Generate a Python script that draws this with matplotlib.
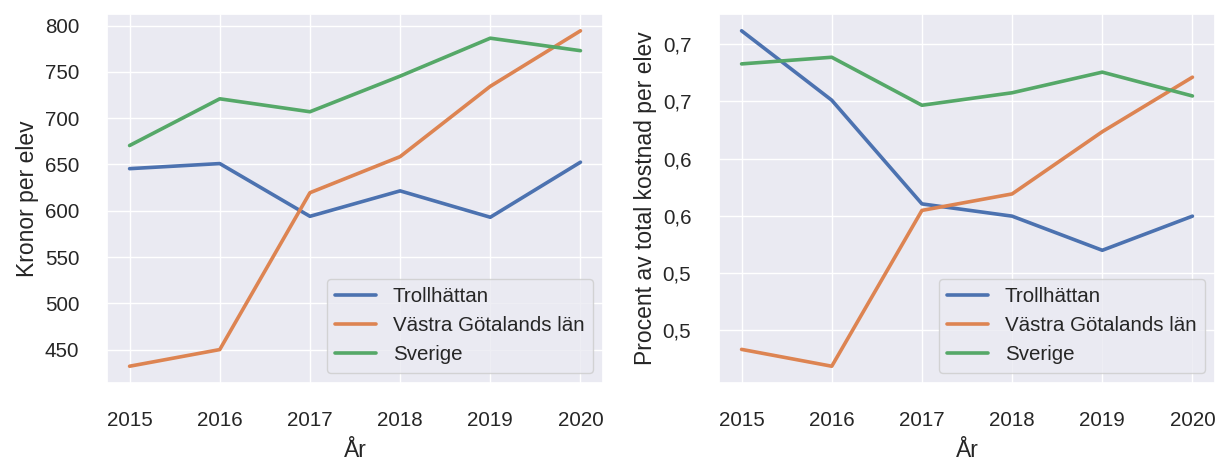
import matplotlib
matplotlib.use("Agg")
import matplotlib.pyplot as plt
from matplotlib.ticker import MultipleLocator, FixedLocator, FixedFormatter
import seaborn as sns

ar = [2015, 2016, 2017, 2018, 2019, 2020]
serier = ["Trollhättan", "Västra Götalands län", "Sverige"]

# Kronor per elev
kronor_trollhattan = [645.5, 651, 594, 621.5, 593, 652.5]
kronor_vgl = [432, 450, 619.5, 658.5, 734.5, 794.5]
kronor_sverige = [670.5, 721, 707, 745.5, 786.5, 773]

# Procent av total kostnad per elev
procent_trollhattan = [0.7116, 0.651, 0.5605, 0.5498, 0.520, 0.5498]
procent_vgl = [0.4335, 0.4188, 0.5548, 0.5692, 0.6235, 0.6711]
procent_sverige = [0.6827, 0.6885, 0.6466, 0.6575, 0.6755, 0.6547]

procent_ticks = [0.45, 0.50, 0.55, 0.60, 0.65, 0.70]
procent_ticklabels = ["0,5", "0,5", "0,6", "0,6", "0,7", "0,7"]

sns.set_theme(style="darkgrid")
plt.rcParams["font.family"] = ["Liberation Sans", "DejaVu Sans"]

farger = ["#4C72B0", "#DD8452", "#55A868"]

fig = plt.figure(figsize=(12.15, 4.61), dpi=100)
ax1 = fig.add_axes([0.0881, 0.1692, 0.4082, 0.8004])
ax2 = fig.add_axes([0.5918, 0.1692, 0.4082, 0.8004])

data1 = [kronor_trollhattan, kronor_vgl, kronor_sverige]
data2 = [procent_trollhattan, procent_vgl, procent_sverige]

for ax, data in [(ax1, data1), (ax2, data2)]:
    for namn, varden, farg in zip(serier, data, farger):
        ax.plot(ar, varden, color=farg, linewidth=2.6, label=namn)
    ax.set_xlabel("År", fontsize=16.5, color=".15", labelpad=7)
    ax.tick_params(axis="both", length=0, pad=20, labelsize=14.8, colors=".15")
    ax.legend(loc="lower right", fontsize=14.8, handlelength=2.0,
              borderaxespad=0.5, labelcolor=".15")

ax1.set_ylabel("Kronor per elev", fontsize=16.5, color=".15")
ax1.yaxis.set_major_locator(MultipleLocator(50))

ax2.set_ylabel("Procent av total kostnad per elev", fontsize=16.5, color=".15")
ax2.yaxis.set_major_locator(FixedLocator(procent_ticks))
ax2.yaxis.set_major_formatter(FixedFormatter(procent_ticklabels))

plt.savefig("out.png", dpi=100)
